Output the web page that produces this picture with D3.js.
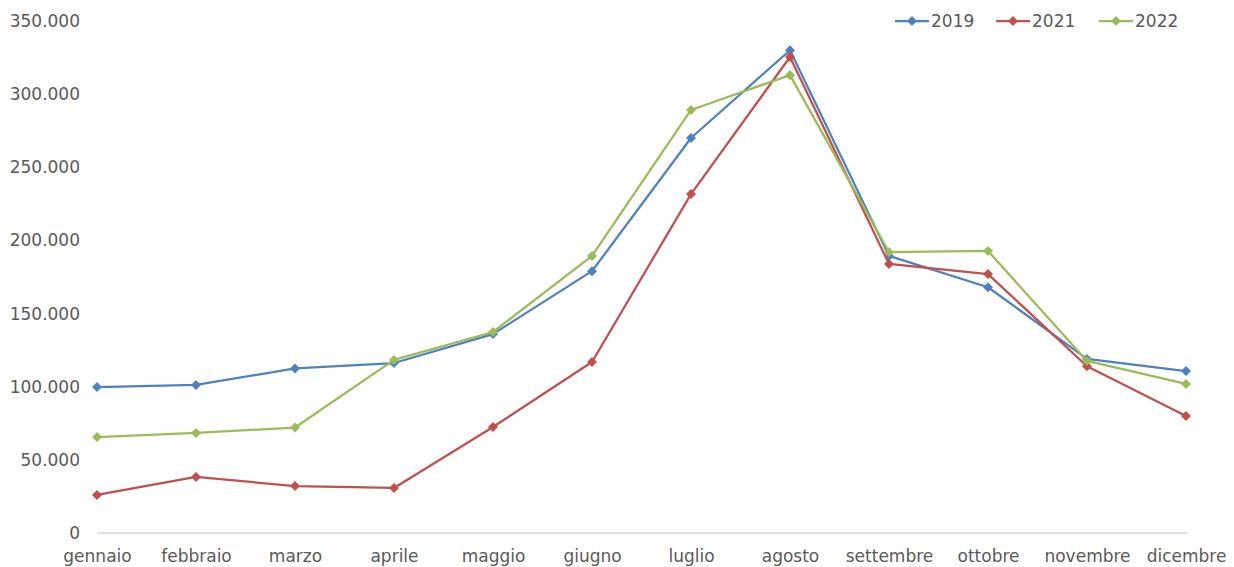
<!DOCTYPE html>
<html>
<head>
<meta charset="utf-8">
<script src="https://cdn.jsdelivr.net/npm/d3@7"></script>
<style>
  body { margin: 0; background: #fff; }
  text { font-family: "DejaVu Sans", Verdana, sans-serif; fill: #595959; }
</style>
</head>
<body>
<div id="chart"></div>
<script>
// Monthly values, three years
const months = ["gennaio", "febbraio", "marzo", "aprile", "maggio", "giugno",
  "luglio", "agosto", "settembre", "ottobre", "novembre", "dicembre"];
const yearNames = ["2019", "2021", "2022"];
const values2019 = [99800, 101200, 112500, 116200, 136000, 179000, 270000, 330000, 189400, 168000, 119000, 110700];
const values2021 = [26000, 38300, 32100, 30800, 72500, 116900, 231700, 325400, 183900, 177000, 114000, 80000];
const values2022 = [65600, 68400, 72100, 118300, 137400, 189400, 289200, 313000, 192000, 192800, 117600, 101900];
const yTicks = [0, 50000, 100000, 150000, 200000, 250000, 300000, 350000];
const colors = ["#4F81BD", "#C0504D", "#9BBB59"];

const series = [values2019, values2021, values2022].map((v, i) => ({
  name: yearNames[i], color: colors[i], values: v
}));

const width = 1234;
const height = 567;
const margin = { top: 21, right: 48, bottom: 34, left: 97 };

const svg = d3.select("#chart").append("svg")
  .attr("width", width)
  .attr("height", height);

const x = d3.scalePoint()
  .domain(months)
  .range([margin.left, width - margin.right]);

const y = d3.scaleLinear()
  .domain([0, 350000])
  .range([height - margin.bottom, margin.top]);

const fmt = d => d3.format(",")(d).replace(/,/g, ".");

// Y axis labels only
svg.append("g")
  .attr("transform", `translate(${margin.left - 17},0)`)
  .call(d3.axisLeft(y).tickValues(yTicks).tickFormat(fmt).tickSize(0).tickPadding(0))
  .call(g => g.select(".domain").remove())
  .call(g => g.selectAll("text").style("font-size", "17px").attr("fill", "#595959"));

// Baseline
svg.append("line")
  .attr("x1", margin.left)
  .attr("x2", width - margin.right + 2)
  .attr("y1", y(0))
  .attr("y2", y(0))
  .attr("stroke", "#d9d9d9")
  .attr("stroke-width", 1.5);

// X axis labels
svg.append("g")
  .attr("transform", `translate(0,${y(0)})`)
  .call(d3.axisBottom(x).tickSize(0).tickPadding(17))
  .call(g => g.select(".domain").remove())
  .call(g => g.selectAll("text").style("font-size", "17px").attr("fill", "#595959"));

const line = d3.line()
  .x((d, i) => x(months[i]))
  .y(d => y(d));

const diamond = d3.symbol().type(d3.symbolDiamond2).size(64);

series.forEach(s => {
  svg.append("path")
    .datum(s.values)
    .attr("fill", "none")
    .attr("stroke", s.color)
    .attr("stroke-width", 2.25)
    .attr("stroke-linejoin", "round")
    .attr("d", line);

  svg.selectAll(null)
    .data(s.values)
    .enter()
    .append("path")
    .attr("d", diamond)
    .attr("fill", s.color)
    .attr("transform", (d, i) => `translate(${x(months[i])},${y(d)})`);
});

// Legend
const legendX = [895, 996, 1099];
const legend = svg.append("g");
series.forEach((s, i) => {
  const g = legend.append("g").attr("transform", `translate(${legendX[i]},21)`);
  g.append("line")
    .attr("x1", 0).attr("x2", 34)
    .attr("stroke", s.color).attr("stroke-width", 2.25);
  g.append("path")
    .attr("d", diamond)
    .attr("fill", s.color)
    .attr("transform", "translate(17,0)");
  g.append("text")
    .attr("x", 36)
    .attr("dy", "0.35em")
    .style("font-size", "17px")
    .text(s.name);
});
</script>
</body>
</html>
